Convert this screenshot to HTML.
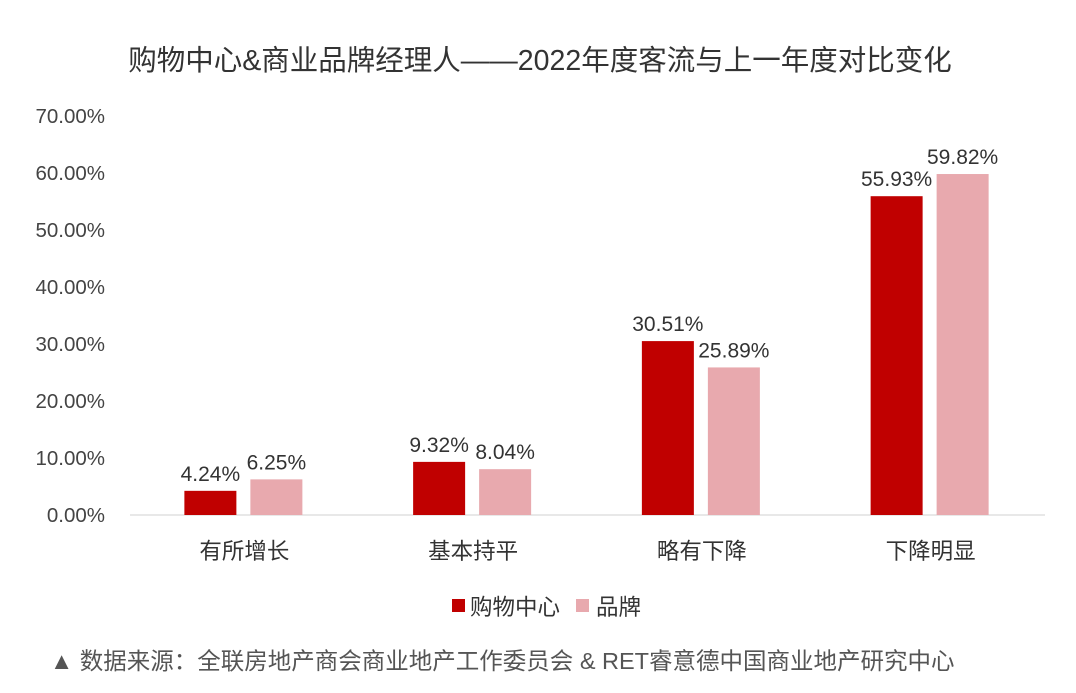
<!DOCTYPE html>
<html><head><meta charset="utf-8">
<style>
body{margin:0;background:#fff;width:1076px;height:688px;overflow:hidden;font-family:"Liberation Sans","Noto Sans CJK SC",sans-serif;}
svg text{font-family:"Liberation Sans","Noto Sans CJK SC",sans-serif;}
</style></head>
<body>
<svg id="chart" width="1076" height="688" xmlns="http://www.w3.org/2000/svg">
<text x="540" y="70" text-anchor="middle" font-size="28.5" fill="#333">购物中心&amp;商业品牌经理人——2022年度客流与上一年度对比变化</text>
<g id="grid"></g><g id="bars"></g>
<g>
<rect x="452" y="599" width="13" height="13" fill="#C00000"/>
<text x="470" y="615" font-size="22.5" fill="#333">购物中心</text>
<rect x="576" y="599" width="13" height="13" fill="#E8A9AE"/>
<text x="596" y="615" font-size="22.5" fill="#333">品牌</text>
</g>
<text x="50" y="669" font-size="23.5" fill="#555">▲ 数据来源：全联房地产商会商业地产工作委员会 &amp; RET睿意德中国商业地产研究中心</text>
</svg>
<script>
const categories=["有所增长","基本持平","略有下降","下降明显"];
const mallValues=[4.24,9.32,30.51,55.93];
const brandValues=[6.25,8.04,25.89,59.82];
const yTicks=[0,10,20,30,40,50,60,70];
const NS="http://www.w3.org/2000/svg";
const y0=515,pxPer=5.7,left=130,right=1045,bw=52;
const yScale=v=>y0-v*pxPer;
const xCenter=i=>left+(right-left)/categories.length*(i+0.5);
function mk(tag,attrs,parent,txt){const e=document.createElementNS(NS,tag);for(const k in attrs)e.setAttribute(k,attrs[k]);if(txt!==undefined)e.textContent=txt;parent.appendChild(e);return e;}
const grid=document.getElementById('grid'),bars=document.getElementById('bars');
yTicks.forEach(t=>{
 const l=mk('text',{x:105,y:yScale(t)+7,'text-anchor':'end','font-size':20.5,fill:'#444'},grid,t.toFixed(2)+'%');
 
 
});
const ax=mk('line',{x1:left,x2:right,y1:y0,y2:y0,stroke:'#d0d0d0','stroke-width':1},grid);


categories.forEach((c,i)=>{
 const cx=xCenter(i);
 const xl=mk('text',{x:cx,y:559,'text-anchor':'middle','font-size':22.5,fill:'#333'},grid,c);
 
 
 [[mallValues[i],'#C00000',cx-60,'bar-mall'],[brandValues[i],'#E8A9AE',cx+6,'bar-brand']].forEach(([v,col,x,n])=>{
  const r=mk('rect',{x:x,y:yScale(v),width:bw,height:v*pxPer,fill:col},bars);
  
  
  const t=mk('text',{x:x+bw/2,y:yScale(v)-10,'text-anchor':'middle','font-size':21,fill:'#333'},bars,v.toFixed(2)+'%');
  
  
 });
});
</script>
</body></html>
